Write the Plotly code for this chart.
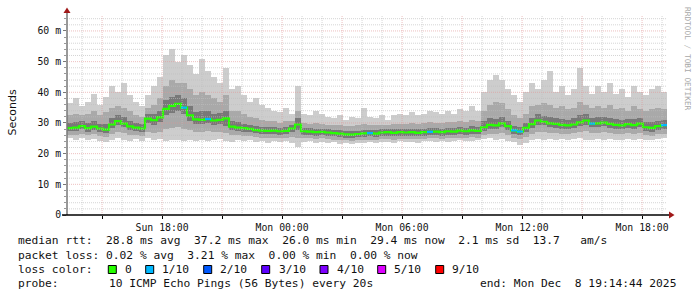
import plotly.graph_objects as go
from datetime import datetime, timedelta

# ---------------- data (ms) ----------------
start_time = datetime(2025, 12, 7, 13, 14, 44)
end_time = datetime(2025, 12, 8, 19, 14, 44)
step_minutes = 18

median_ms = [28.3, 28.5, 29.0, 28.3, 28.8, 28.2, 27.8, 29.5, 30.6, 29.8,
             28.9, 28.5, 28.2, 31.4, 30.9, 31.8, 34.6, 35.6, 36.2, 35.0,
             32.5, 31.2, 31.0, 31.3, 30.8, 31.0, 31.5, 28.8, 28.5, 28.3,
             28.1, 27.7, 27.5, 27.4, 27.5, 27.3, 27.4, 28.2, 29.5, 27.3,
             27.2, 27.0, 27.1, 26.9, 26.7, 26.5, 26.3, 26.2, 26.4, 26.6,
             26.7, 26.5, 26.9, 27.0, 26.8, 27.0, 26.9, 27.0, 26.8, 27.0,
             27.1, 27.2, 27.0, 27.3, 27.2, 27.5, 27.3, 27.6, 27.4, 28.6,
             29.4, 29.2, 29.9, 29.0, 27.6, 27.2, 28.4, 29.6, 30.8, 30.4,
             29.9, 29.7, 29.4, 29.2, 29.5, 30.2, 30.8, 29.8, 29.9, 30.1,
             29.7, 29.4, 29.2, 29.6, 29.3, 29.8, 28.6, 28.4, 29.0, 29.3]

max_ms = [36.5, 38.0, 35.5, 37.0, 39.5, 36.0, 38.5, 42.0, 40.0, 43.0,
          39.0, 37.0, 35.5, 39.0, 42.0, 45.0, 52.0, 54.0, 50.0, 52.0,
          49.0, 46.0, 51.0, 47.0, 45.0, 43.0, 48.0, 41.0, 42.0, 39.0,
          37.0, 38.0, 36.0, 35.0, 34.0, 33.5, 35.0, 33.0, 42.0, 33.0,
          32.5, 34.0, 33.0, 32.0, 31.5, 32.5, 31.0, 32.0, 31.5, 35.0,
          32.0, 31.5, 32.5, 31.0, 32.5, 33.0, 32.5, 33.5, 32.5, 33.0,
          34.0, 33.5, 33.0, 34.0, 33.0, 34.5, 34.0, 35.5, 34.0, 40.0,
          44.0, 45.5, 44.0, 41.0, 39.0, 37.0, 40.0, 43.0, 41.0, 44.0,
          47.0, 40.0, 42.0, 39.0, 41.0, 48.0, 42.0, 39.5, 42.0, 40.0,
          43.0, 39.5, 41.0, 38.5, 42.0, 40.0, 39.0, 41.0, 42.0, 40.0]

min_ms = [25.0, 24.5, 25.2, 24.3, 24.8, 24.0, 23.8, 24.5, 25.0, 24.6,
          24.2, 24.8, 24.0, 25.0, 24.6, 24.8, 24.2, 24.5, 24.6, 24.0,
          24.4, 24.0, 24.6, 24.2, 24.5, 24.8, 24.2, 23.8, 24.5, 24.0,
          24.3, 23.7, 24.0, 23.5, 24.0, 23.8, 24.2, 23.6, 22.3, 23.8,
          24.1, 23.5, 23.9, 23.4, 23.7, 23.2, 23.5, 23.2, 23.6, 23.4,
          23.8, 23.5, 23.7, 23.9, 23.6, 24.0, 23.7, 23.9, 23.5, 24.0,
          24.1, 23.8, 24.2, 23.9, 24.0, 24.3, 24.0, 24.2, 24.4, 24.8,
          25.0, 24.6, 24.8, 24.2, 23.8, 22.8, 23.5, 24.5, 24.8, 24.6,
          24.9, 24.5, 24.7, 24.4, 24.8, 25.0, 24.6, 24.5, 24.8, 24.6,
          24.9, 24.4, 24.6, 24.8, 24.5, 24.7, 24.3, 24.6, 24.8, 25.0]

upper_mid_ms = [32.5, 33.0, 32.5, 33.0, 34.0, 32.5, 33.5, 35.0, 35.5, 35.0,
                34.0, 32.5, 32.0, 35.0, 36.0, 38.0, 42.0, 44.0, 43.0, 43.0,
                41.0, 39.0, 40.0, 39.0, 38.0, 37.0, 39.0, 34.0, 34.0, 33.0,
                32.0, 31.5, 31.0, 30.5, 30.5, 30.0, 30.5, 30.5, 34.0, 30.0,
                29.8, 30.0, 29.8, 29.5, 29.2, 29.3, 29.0, 29.0, 29.2, 29.6,
                29.4, 29.2, 29.5, 29.4, 29.6, 29.8, 29.6, 29.9, 29.7, 30.0,
                30.2, 30.1, 30.0, 30.4, 30.3, 30.6, 30.4, 31.0, 30.8, 34.0,
                36.0, 37.0, 36.5, 34.5, 32.5, 31.5, 33.0, 35.5, 36.0, 36.5,
                36.0, 35.0, 35.5, 34.5, 35.0, 37.0, 36.0, 35.0, 35.5, 35.0,
                36.0, 34.5, 35.0, 34.0, 35.5, 34.5, 34.0, 34.5, 35.0, 34.5]

lower_mid_ms = [26.2, 26.0, 26.5, 26.0, 26.3, 25.8, 25.5, 26.3, 27.0, 26.6,
                26.0, 26.2, 25.8, 27.0, 26.8, 27.2, 28.0, 28.5, 28.8, 28.2,
                27.6, 27.0, 27.2, 27.3, 27.0, 27.2, 26.8, 26.0, 26.0, 25.8,
                25.7, 25.3, 25.2, 25.0, 25.2, 25.0, 25.1, 25.3, 25.0, 25.0,
                25.0, 24.8, 25.0, 24.7, 24.6, 24.4, 24.3, 24.2, 24.4, 24.5,
                24.6, 24.5, 24.7, 24.8, 24.6, 24.8, 24.7, 24.9, 24.7, 24.9,
                25.0, 25.0, 24.9, 25.1, 25.0, 25.2, 25.1, 25.3, 25.2, 26.0,
                26.5, 26.4, 26.8, 26.0, 25.2, 24.8, 25.5, 26.5, 27.2, 27.0,
                26.8, 26.6, 26.5, 26.3, 26.6, 27.0, 27.3, 26.7, 26.8, 27.0,
                26.7, 26.5, 26.4, 26.6, 26.4, 26.7, 26.0, 25.9, 26.3, 26.5]

upper_core_ms = [30.0, 30.2, 30.8, 30.0, 30.6, 29.8, 29.6, 31.5, 32.5, 31.8,
                 30.8, 30.0, 29.8, 33.0, 33.0, 34.0, 37.5, 38.5, 39.0, 38.0,
                 35.5, 33.5, 33.8, 33.8, 33.0, 33.2, 34.0, 30.5, 30.2, 29.8,
                 29.5, 29.0, 28.8, 28.6, 28.7, 28.4, 28.6, 29.3, 31.5, 28.4,
                 28.3, 28.1, 28.2, 28.0, 27.8, 27.6, 27.4, 27.3, 27.5, 27.8,
                 27.8, 27.6, 28.0, 28.1, 27.9, 28.1, 28.0, 28.2, 28.0, 28.2,
                 28.3, 28.4, 28.2, 28.5, 28.4, 28.7, 28.5, 28.9, 28.7, 30.5,
                 31.5, 31.4, 32.0, 30.8, 29.0, 28.6, 30.0, 31.5, 32.8, 32.4,
                 32.0, 31.6, 31.4, 31.0, 31.5, 32.5, 32.8, 31.6, 31.8, 32.0,
                 31.6, 31.2, 31.0, 31.4, 31.2, 31.6, 30.4, 30.2, 30.8, 31.0]

lower_core_ms = [27.3, 27.5, 27.9, 27.2, 27.7, 27.1, 26.8, 28.3, 29.4, 28.7,
                 27.8, 27.4, 27.1, 30.0, 29.5, 30.2, 32.5, 33.3, 33.8, 32.8,
                 30.8, 29.8, 29.7, 29.9, 29.5, 29.6, 29.0, 27.7, 27.4, 27.2,
                 27.0, 26.6, 26.4, 26.3, 26.4, 26.2, 26.3, 26.9, 27.8, 26.2,
                 26.1, 25.9, 26.0, 25.8, 25.6, 25.4, 25.2, 25.1, 25.3, 25.5,
                 25.6, 25.4, 25.8, 25.9, 25.7, 25.9, 25.8, 25.9, 25.7, 25.9,
                 26.0, 26.1, 25.9, 26.2, 26.1, 26.4, 26.2, 26.5, 26.3, 27.4,
                 28.2, 28.0, 28.7, 27.8, 26.5, 26.0, 27.2, 28.4, 29.5, 29.2,
                 28.7, 28.5, 28.2, 28.0, 28.3, 29.0, 29.5, 28.6, 28.7, 28.9,
                 28.5, 28.2, 28.0, 28.4, 28.1, 28.6, 27.4, 27.2, 27.8, 28.1]

# lost pings (out of 10) per column
loss_count = [0, 0, 0, 0, 0, 0, 0, 0, 0, 0,
              0, 0, 0, 0, 0, 0, 0, 0, 0, 1,
              0, 0, 0, 1, 0, 0, 0, 0, 0, 0,
              0, 0, 0, 0, 0, 0, 0, 0, 0, 0,
              0, 0, 0, 0, 0, 0, 0, 0, 0, 0,
              1, 0, 0, 0, 0, 0, 0, 0, 0, 0,
              1, 0, 0, 0, 0, 0, 0, 0, 0, 0,
              0, 0, 0, 0, 1, 1, 0, 0, 0, 0,
              0, 0, 0, 0, 0, 0, 0, 1, 0, 0,
              0, 0, 0, 0, 0, 0, 0, 0, 0, 1]

loss_labels = ["0", "1/10", "2/10", "3/10", "4/10", "5/10", "9/10"]
loss_levels = [0, 1, 2, 3, 4, 5, 9]
loss_colors = ["#26ff00", "#00b8ff", "#0059ff", "#5e00ff", "#7e00ff", "#dd00ff", "#ff0000"]

y_tick_values = [0, 10, 20, 30, 40, 50, 60]
y_tick_labels = ["0", "10 m", "20 m", "30 m", "40 m", "50 m", "60 m"]
x_tick_values = [datetime(2025, 12, 7, 18), datetime(2025, 12, 8, 0), datetime(2025, 12, 8, 6),
                 datetime(2025, 12, 8, 12), datetime(2025, 12, 8, 18)]
x_tick_labels = ["Sun 18:00", "Mon 00:00", "Mon 06:00", "Mon 12:00", "Mon 18:00"]

median_line = "median rtt:  28.8 ms avg  37.2 ms max  26.0 ms min  29.4 ms now  2.1 ms sd  13.7   am/s"
loss_line = "packet loss: 0.02 % avg  3.21 % max  0.00 % min  0.00 % now"
probe_label = "probe:"
probe_text = "10 ICMP Echo Pings (56 Bytes) every 20s"
end_text = "end: Mon Dec  8 19:14:44 2025"

# ---------------- geometry / style ----------------
W, H = 697, 297
PL, PT, PW, PH = 67, 15, 600, 200
Y_MAX = 65.2
MONO = "DejaVu Sans Mono"
MAJOR_GRID = "rgba(225,150,150,0.6)"
MINOR_GRID = "rgba(190,190,190,0.65)"


def px_x(p):
    return (p - PL) / PW


def px_y(p):
    return (PT + PH - p) / PH


def nb(s):
    return s.replace(" ", "\u00a0")


N = len(median_ms)
step = timedelta(minutes=step_minutes)
starts = [start_time + step * i for i in range(N)]
centers = [s + step / 2 for s in starts]
bar_w = step_minutes * 60 * 1000

fig = go.Figure()

smoke = [
    (min_ms, max_ms, "#cdcdcd"),
    (lower_mid_ms, upper_mid_ms, "#a9a9a9"),
    (lower_core_ms, upper_core_ms, "#787878"),
]
for lo, hi, col in smoke:
    fig.add_trace(go.Bar(
        x=centers, base=lo, y=[h - l for l, h in zip(lo, hi)], width=bar_w,
        marker=dict(color=col, line=dict(width=0)), hoverinfo="skip", showlegend=False))

# median step line
fig.add_trace(go.Scatter(
    x=starts + [end_time], y=median_ms + [median_ms[-1]], mode="lines",
    line=dict(color=loss_colors[0], width=2.2, shape="hv"), hoverinfo="skip", showlegend=False))

# loss-colored segments
for lvl, col in zip(loss_levels[1:], loss_colors[1:]):
    xs, ys = [], []
    for i in range(N):
        if loss_count[i] == lvl:
            xs += [starts[i], starts[i] + step, None]
            ys += [median_ms[i], median_ms[i], None]
    if xs:
        fig.add_trace(go.Scatter(x=xs, y=ys, mode="lines", line=dict(color=col, width=2.2),
                                 hoverinfo="skip", showlegend=False))

shapes = []
# horizontal grid
v = 2
while v < Y_MAX:
    major = v % 10 == 0
    shapes.append(dict(type="line", xref="paper", yref="y", x0=0, x1=1, y0=v, y1=v, layer="above",
                       line=dict(color=MAJOR_GRID if major else MINOR_GRID, width=1, dash="1px,1px")))
    v += 2
# vertical grid (hourly, red every 3h)
t = datetime(2025, 12, 7, 14)
while t < end_time:
    major = t.hour % 3 == 0
    shapes.append(dict(type="line", xref="x", yref="paper", x0=t, x1=t, y0=0, y1=1, layer="above",
                       line=dict(color=MAJOR_GRID if major else MINOR_GRID, width=1, dash="1px,1px")))
    t += timedelta(hours=1)

# axes lines and arrows
shapes.append(dict(type="line", xref="paper", yref="paper", x0=px_x(67), x1=px_x(67), y0=0, y1=px_y(11),
                   line=dict(color="#777777", width=1.5), layer="above"))
shapes.append(dict(type="line", xref="paper", yref="paper", x0=px_x(62), x1=px_x(670), y0=0, y1=0,
                   line=dict(color="#000000", width=1.5), layer="above"))
shapes.append(dict(type="path", xref="paper", yref="paper", layer="above",
                   path=f"M {px_x(63.5)},{px_y(13)} L {px_x(70.5)},{px_y(13)} L {px_x(67)},{px_y(7.5)} Z",
                   fillcolor="#a01818", line=dict(width=0)))
shapes.append(dict(type="path", xref="paper", yref="paper", layer="above",
                   path=f"M {px_x(669)},{px_y(211.5)} L {px_x(669)},{px_y(218.5)} L {px_x(674.5)},{px_y(215)} Z",
                   fillcolor="#a01818", line=dict(width=0)))

# legend color boxes
box_x = [108.3, 145.7, 203.7, 261.7, 320.0, 377.7, 435.7]
label_x = [123.3, 160.3, 218.3, 276.7, 334.7, 392.3, 450.0]
for bx, col in zip(box_x, loss_colors):
    shapes.append(dict(type="rect", xref="paper", yref="paper", x0=px_x(bx), x1=px_x(bx + 8),
                       y0=px_y(265.5), y1=px_y(273.5), fillcolor=col, line=dict(color="#000", width=1)))

ann = []
TXT = dict(family=MONO, size=11.25, color="#111111")


def add_text(x, y, s, font=TXT, anchor="left"):
    ann.append(dict(xref="paper", yref="paper", x=px_x(x), y=px_y(y), text=nb(s), showarrow=False,
                    xanchor=anchor, yanchor="middle", font=font))


add_text(16, 241.0, median_line)
add_text(16, 255.0, loss_line)
add_text(16, 269.0, "loss color:")
for lx, lab in zip(label_x, loss_labels):
    add_text(lx, 269.0, lab)
add_text(16, 283.0, probe_label)
add_text(107, 283.0, probe_text)
add_text(478, 283.0, end_text)

ann.append(dict(xref="paper", yref="paper", x=px_x(11.5), y=px_y(113), text="Seconds", showarrow=False,
                textangle=-90, font=dict(family="DejaVu Sans", size=11, color="#111111"),
                xanchor="center", yanchor="middle"))
ann.append(dict(xref="paper", yref="paper", x=px_x(687), y=px_y(59), text=nb("RRDTOOL / TOBI OETIKER"),
                showarrow=False, textangle=90, font=dict(family=MONO, size=7.8, color="#a8a8a8"),
                xanchor="center", yanchor="middle"))

fig.update_layout(
    width=W, height=H, margin=dict(l=PL, r=W - PL - PW, t=PT, b=H - PT - PH),
    paper_bgcolor="white", plot_bgcolor="white", barmode="overlay", bargap=0,
    shapes=shapes, annotations=ann, showlegend=False,
)
fig.update_xaxes(type="date", range=[start_time, end_time], tickmode="array", tickvals=x_tick_values,
                 ticktext=x_tick_labels, showgrid=False, zeroline=False, showline=False,
                 ticks="outside", ticklen=3, tickcolor="rgba(0,0,0,0)", ticklabelstandoff=0,
                 tickfont=dict(family=MONO, size=9.8, color="#111111"),
                 minor=dict(ticks="outside", ticklen=3, tickcolor="#000", dtick=3 * 3600 * 1000,
                            tick0=datetime(2025, 12, 7, 15), showgrid=False))
fig.update_yaxes(range=[0, Y_MAX], tickmode="array", tickvals=y_tick_values, ticktext=y_tick_labels,
                 showgrid=False, zeroline=False, showline=False, ticks="outside", ticklen=3,
                 tickcolor="#777", tickfont=dict(family=MONO, size=9.8, color="#111111"),
                 minor=dict(ticks="outside", ticklen=2, tickcolor="#999", dtick=2, showgrid=False))

fig.write_html("out.html")
